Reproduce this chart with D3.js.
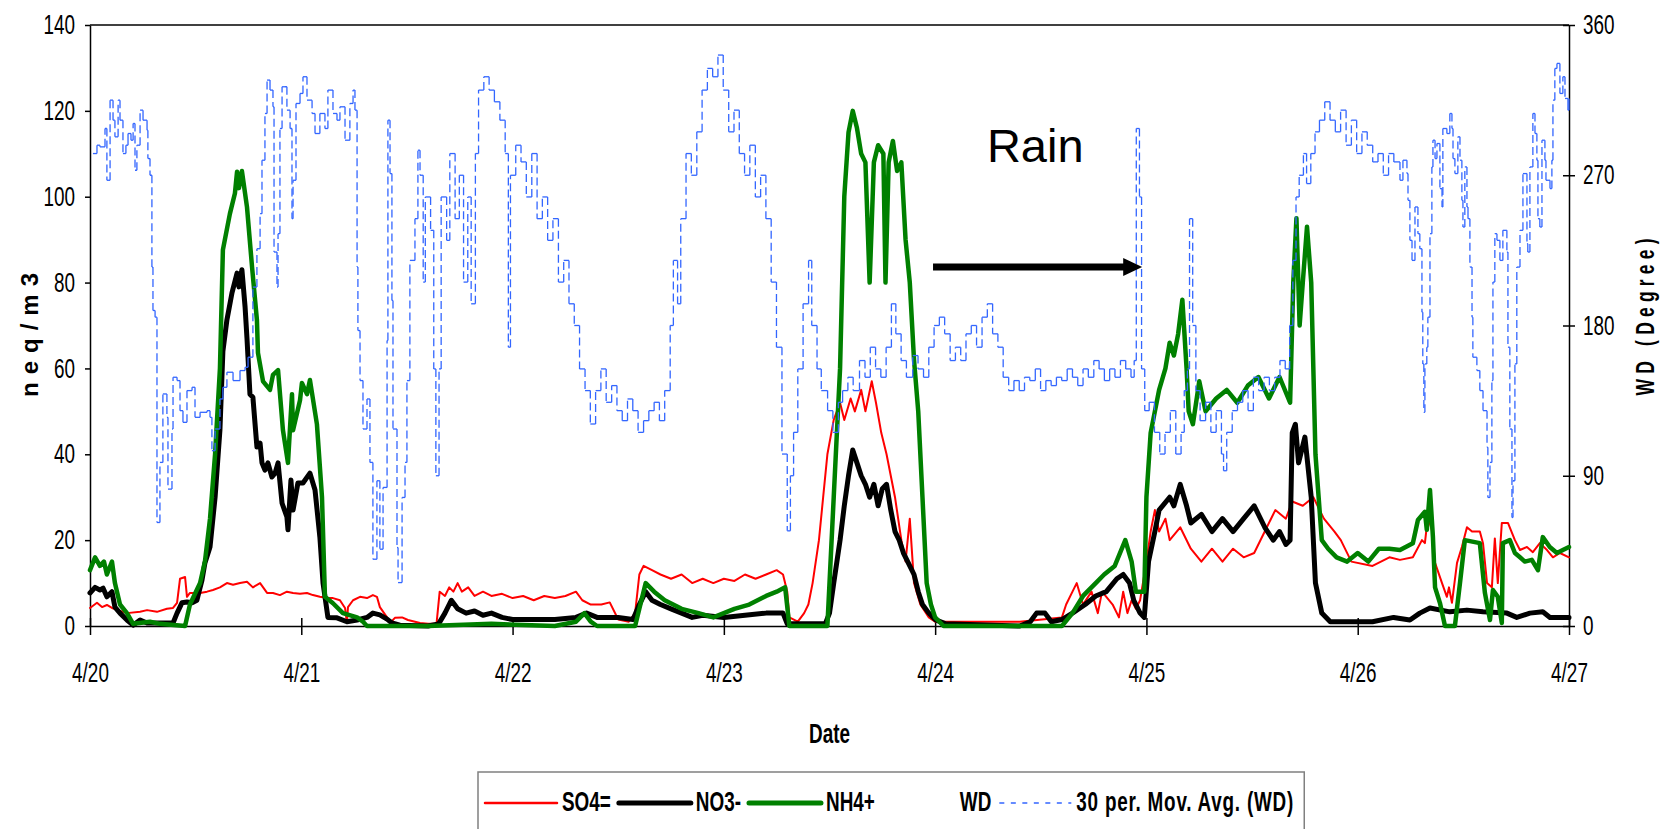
<!DOCTYPE html>
<html>
<head>
<meta charset="utf-8">
<script src="https://cdnjs.cloudflare.com/ajax/libs/d3/7.8.5/d3.min.js"></script>
<style>
body { margin: 0; background: #fff; }
text { font-family: "Liberation Sans", Arial, sans-serif; }
</style>
</head>
<body>
<div id="chart"></div>
<script>
// tick labels
var dayLabels = ["4/20", "4/21", "4/22", "4/23", "4/24", "4/25", "4/26", "4/27"];
var leftTicks = [0, 20, 40, 60, 80, 100, 120, 140];
var rightTicks = [0, 90, 180, 270, 360];
var legendNames = ["SO4=", "NO3-", "NH4+", "WD", "30 per. Mov. Avg. (WD)"];

// [days after 4/20 0:00, neq/m3]
var so4 = [[0,4.2],[0.033,5.4],[0.057,4.4],[0.080,4.9],[0.104,4.2],[0.133,3.7],[0.175,3],[0.237,3.3],[0.270,3.7],[0.317,3.3],[0.364,4],[0.393,4.2],[0.412,5.4],[0.426,11],[0.450,11.4],[0.459,6.8],[0.473,7.7],[0.521,7.7],[0.554,8],[0.582,8.4],[0.615,9],[0.648,10],[0.677,9.6],[0.710,10],[0.743,10.3],[0.771,9],[0.805,10],[0.838,7.7],[0.866,7.7],[0.899,7.2],[0.932,8],[0.961,7.7],[0.994,7.5],[1.027,7.7],[1.055,7.2],[1.088,6.8],[1.122,6.5],[1.150,6.5],[1.183,6],[1.207,4.2],[1.216,0.7],[1.221,4.4],[1.245,6],[1.278,6.8],[1.311,6.5],[1.339,7.2],[1.358,6.8],[1.372,4.4],[1.406,2],[1.420,0.7],[1.443,1.9],[1.477,2],[1.505,1.4],[1.562,0.7],[1.60,0.5],[1.64,0.5],[1.655,8],[1.68,7],[1.70,9],[1.72,8],[1.74,10],[1.76,8],[1.79,9],[1.82,7],[1.86,8],[1.9,7],[1.95,7.5],[2.0,6.5],[2.05,7],[2.1,6],[2.15,7],[2.2,6.5],[2.25,7],[2.3,8],[2.33,6],[2.37,5],[2.42,5],[2.46,5.5],[2.5,1.5],[2.55,1],[2.58,3],[2.6,12],[2.62,14],[2.66,13],[2.7,12],[2.75,11],[2.8,12],[2.85,10],[2.9,11],[2.95,10],[3.0,11],[3.05,10.5],[3.1,12],[3.15,11],[3.2,12],[3.25,13],[3.28,12],[3.3,8],[3.31,2],[3.35,1],[3.38,3],[3.4,5],[3.42,10],[3.45,20],[3.47,30],[3.49,40],[3.52,48],[3.55,52],[3.57,48],[3.6,53],[3.62,50],[3.65,55],[3.67,50],[3.7,57],[3.72,52],[3.745,45],[3.77,40],[3.79,35],[3.81,30],[3.84,20],[3.86,15],[3.88,25],[3.90,10],[3.93,5],[3.97,2],[4.0,1],[4.4,1],[4.6,2],[4.62,5],[4.65,8],[4.67,10],[4.7,5],[4.74,8],[4.77,3],[4.79,8],[4.84,5],[4.87,2],[4.89,8],[4.91,3],[4.93,6],[4.95,4],[4.97,6],[5.0,15],[5.02,22],[5.04,27],[5.06,22],[5.09,25],[5.11,20],[5.16,23],[5.21,18],[5.26,15],[5.31,18],[5.36,15],[5.41,18],[5.46,16],[5.51,17],[5.56,22],[5.61,27],[5.66,25],[5.69,29],[5.74,28],[5.79,30],[5.82,27],[5.84,25],[5.89,22],[5.92,20],[5.97,15],[6.07,14],[6.15,16],[6.2,15.4],[6.261,16],[6.304,20],[6.318,19.3],[6.332,25.4],[6.351,22.4],[6.366,14.7],[6.399,10],[6.422,6.8],[6.432,9],[6.446,5.4],[6.470,14.7],[6.493,18.4],[6.517,23],[6.541,22],[6.578,22],[6.593,19.3],[6.612,10],[6.635,9],[6.649,20.4],[6.663,10],[6.682,24],[6.711,24],[6.744,20],[6.768,17.7],[6.801,18.4],[6.829,17.2],[6.862,19.3],[6.896,17.7],[6.924,16],[6.957,17],[7.0,16]];

var no3 = [[0,7.7],[0.024,9],[0.047,8.4],[0.062,8.8],[0.080,6.8],[0.104,8],[0.118,4.4],[0.142,3],[0.175,1.4],[0.204,0.2],[0.237,1.4],[0.270,0.7],[0.298,0.7],[0.393,0.7],[0.412,3],[0.435,5.4],[0.459,5.6],[0.483,5.4],[0.506,6],[0.530,10.7],[0.544,14.7],[0.568,18.4],[0.592,30],[0.615,45.7],[0.629,64],[0.648,71.3],[0.672,77.6],[0.696,82.2],[0.705,79],[0.719,83],[0.734,74.3],[0.743,67],[0.757,54],[0.771,53.3],[0.790,41.7],[0.805,42.6],[0.814,38],[0.828,36.3],[0.842,38],[0.861,34.7],[0.876,35.6],[0.890,38],[0.909,28.6],[0.932,25.4],[0.937,22.4],[0.951,34],[0.961,27],[0.984,33.3],[1.008,33.3],[1.041,35.6],[1.065,31.7],[1.088,20.7],[1.103,10],[1.126,2],[1.169,1.9],[1.216,1],[1.264,1.4],[1.311,2],[1.339,3],[1.372,2.6],[1.406,1.6],[1.429,0.7],[1.467,0.2],[1.6,0],[1.65,0.5],[1.68,3],[1.71,6],[1.74,4],[1.78,3],[1.82,3.5],[1.86,2.5],[1.9,3],[1.95,2],[2.0,1.5],[2.1,1.5],[2.2,1.5],[2.3,2],[2.35,3],[2.4,2],[2.5,2],[2.57,1.5],[2.6,5],[2.63,8],[2.66,6],[2.7,5],[2.75,4],[2.8,3],[2.85,2],[2.9,2.5],[3.0,2],[3.1,2.5],[3.2,3],[3.28,3],[3.3,0.5],[3.48,0.5],[3.5,3],[3.52,10],[3.55,20],[3.57,28],[3.59,35],[3.61,41],[3.63,38],[3.65,35],[3.67,33],[3.69,30],[3.71,33],[3.73,28],[3.75,32],[3.77,33],[3.79,27],[3.81,22],[3.83,20],[3.85,17],[3.87,15],[3.9,12],[3.92,8],[3.94,5],[3.97,3],[4.0,1.5],[4.05,0.5],[4.4,0],[4.45,1],[4.48,3],[4.52,3],[4.55,1],[4.6,1.5],[4.65,3],[4.71,5],[4.76,7],[4.81,8],[4.86,11],[4.89,12],[4.92,10],[4.94,6],[4.97,3],[4.99,2],[5.01,15],[5.04,22],[5.06,27],[5.11,30],[5.13,28],[5.16,33],[5.19,28],[5.21,24],[5.26,26],[5.31,22],[5.36,25],[5.41,22],[5.46,25],[5.51,28],[5.56,23],[5.6,20],[5.63,22],[5.66,19],[5.68,20],[5.69,45],[5.705,47],[5.72,38],[5.75,44],[5.78,30],[5.8,10],[5.83,3],[5.87,1],[6.07,1],[6.17,2],[6.247,1.4],[6.294,3],[6.342,4.2],[6.436,3.3],[6.517,3.7],[6.593,3.3],[6.706,3],[6.753,2],[6.815,3],[6.876,3.3],[6.910,2],[7.0,2]];

var nh4 = [[0,13],[0.024,16],[0.047,14],[0.066,15],[0.080,12],[0.104,15],[0.118,10],[0.142,5],[0.175,3],[0.204,0.5],[0.284,1],[0.331,0.5],[0.450,0],[0.473,5],[0.521,10],[0.544,15],[0.568,25],[0.592,40],[0.615,60],[0.629,87.6],[0.662,96],[0.686,100.8],[0.696,105.8],[0.705,102],[0.719,106],[0.743,97.6],[0.767,83.6],[0.790,71.3],[0.795,63.6],[0.819,57],[0.852,55],[0.866,58.5],[0.890,59.6],[0.913,45.7],[0.937,38],[0.956,54],[0.961,45.6],[0.994,52.6],[1.003,56.6],[1.027,54],[1.041,57.3],[1.074,47],[1.098,30],[1.112,6.8],[1.150,5.3],[1.197,3],[1.264,2],[1.292,1],[1.311,0],[1.6,0],[1.9,0.5],[2.2,0],[2.3,1],[2.34,3],[2.37,1],[2.4,0],[2.58,0],[2.6,4],[2.63,10],[2.67,8],[2.72,6],[2.8,4],[2.88,3],[2.95,2],[3.0,3],[3.05,4],[3.12,5],[3.2,7],[3.25,8],[3.29,9],[3.31,0],[3.49,0],[3.52,30],[3.55,60],[3.57,100],[3.59,115],[3.61,120],[3.63,116],[3.65,110],[3.67,108],[3.69,80],[3.71,108],[3.73,112],[3.755,110],[3.765,80],[3.78,108],[3.80,113],[3.82,106],[3.84,108],[3.86,90],[3.88,80],[3.90,62],[3.92,50],[3.94,30],[3.96,10],[3.98,5],[4.0,2],[4.04,0],[4.6,0],[4.65,3],[4.7,7],[4.76,10],[4.8,12],[4.85,14],[4.9,20],[4.93,15],[4.95,8],[4.99,8],[5.0,30],[5.02,45],[5.06,55],[5.09,60],[5.11,66],[5.13,63],[5.15,68],[5.17,76],[5.19,60],[5.2,50],[5.22,47],[5.25,57],[5.28,50],[5.33,53],[5.38,55],[5.43,52],[5.48,56],[5.53,58],[5.58,53],[5.63,58],[5.68,52],[5.695,80],[5.71,95],[5.725,70],[5.74,80],[5.76,93],[5.78,80],[5.8,40],[5.83,20],[5.86,18],[5.9,16],[5.95,15],[6.0,17],[6.05,15],[6.1,18],[6.15,18],[6.2,17.7],[6.261,19.3],[6.285,24.7],[6.318,26.6],[6.327,22.4],[6.342,31.7],[6.356,20.7],[6.366,9],[6.389,5.4],[6.413,0],[6.460,0],[6.484,10],[6.507,20],[6.578,19.3],[6.602,7.7],[6.626,1.4],[6.640,8.4],[6.663,6.8],[6.682,0.7],[6.687,19.3],[6.720,20],[6.744,17],[6.768,16],[6.791,15],[6.824,15.4],[6.853,13],[6.876,20.7],[6.909,18.4],[6.943,17],[6.971,17.7],[7.0,18.4]];

// [days, degrees] 30 per. moving average of WD
var wdAvg = [[0.014,283],[0.033,288],[0.047,287],[0.071,298],[0.080,267],[0.095,315],[0.109,303],[0.118,293],[0.133,315],[0.142,303],[0.156,283],[0.170,288],[0.180,295],[0.194,291],[0.204,301],[0.213,273],[0.222,288],[0.237,309],[0.251,303],[0.270,297],[0.274,280],[0.284,270],[0.293,215],[0.298,189],[0.308,185],[0.317,62],[0.331,98],[0.345,139],[0.364,125],[0.369,82],[0.388,118],[0.393,149],[0.412,147],[0.426,129],[0.440,122],[0.459,141],[0.483,143],[0.497,125],[0.521,128],[0.554,129],[0.568,125],[0.577,105],[0.592,118],[0.615,136],[0.629,143],[0.648,152],[0.677,147],[0.710,153],[0.734,155],[0.748,161],[0.771,203],[0.790,226],[0.805,247],[0.814,279],[0.828,307],[0.838,327],[0.852,321],[0.866,311],[0.871,224],[0.885,203],[0.890,235],[0.899,298],[0.909,323],[0.923,323],[0.932,309],[0.947,298],[0.956,244],[0.961,267],[0.975,313],[0.994,319],[1.008,329],[1.027,315],[1.051,307],[1.065,295],[1.088,307],[1.112,298],[1.126,321],[1.150,307],[1.169,303],[1.183,311],[1.207,291],[1.230,313],[1.245,321],[1.254,309],[1.264,215],[1.268,177],[1.278,147],[1.292,118],[1.311,136],[1.325,98],[1.339,40],[1.358,87],[1.372,46],[1.387,83],[1.406,171],[1.410,303],[1.420,271],[1.429,195],[1.434,118],[1.453,47],[1.458,26],[1.477,77],[1.491,98],[1.500,147],[1.514,219],[1.538,244],[1.552,285],[1.562,270],[1.577,206],[1.587,257],[1.612,237],[1.627,154],[1.637,90],[1.652,154],[1.662,257],[1.688,231],[1.703,283],[1.728,244],[1.748,270],[1.768,206],[1.788,257],[1.804,193],[1.824,283],[1.839,321],[1.864,329],[1.889,321],[1.914,314],[1.940,303],[1.965,283],[1.980,167],[1.990,270],[2.015,288],[2.040,278],[2.065,257],[2.091,283],[2.116,244],[2.141,257],[2.166,231],[2.191,244],[2.217,206],[2.242,219],[2.267,193],[2.292,180],[2.317,154],[2.343,141],[2.368,121],[2.393,141],[2.418,154],[2.443,134],[2.469,144],[2.494,129],[2.519,123],[2.544,136],[2.569,129],[2.594,116],[2.620,123],[2.645,129],[2.670,134],[2.695,123],[2.720,141],[2.746,180],[2.761,219],[2.781,193],[2.796,244],[2.821,283],[2.846,270],[2.872,296],[2.897,321],[2.922,334],[2.947,329],[2.972,342],[2.997,321],[3.023,296],[3.048,309],[3.073,283],[3.098,270],[3.123,288],[3.149,257],[3.174,270],[3.199,244],[3.224,206],[3.249,167],[3.275,103],[3.300,57],[3.315,90],[3.330,116],[3.350,154],[3.375,193],[3.401,219],[3.416,180],[3.441,154],[3.461,141],[3.491,129],[3.516,116],[3.542,134],[3.562,141],[3.587,149],[3.612,141],[3.642,159],[3.668,149],[3.693,167],[3.718,154],[3.743,149],[3.768,167],[3.793,193],[3.814,175],[3.839,159],[3.864,149],[3.894,162],[3.919,154],[3.945,149],[3.970,167],[3.995,180],[4.020,185],[4.045,175],[4.071,159],[4.096,167],[4.121,159],[4.146,175],[4.171,180],[4.196,167],[4.222,185],[4.247,193],[4.272,175],[4.297,167],[4.322,149],[4.348,141],[4.373,147],[4.398,141],[4.423,149],[4.448,147],[4.474,154],[4.499,141],[4.524,147],[4.549,144],[4.574,149],[4.599,147],[4.625,154],[4.650,149],[4.675,144],[4.700,154],[4.725,149],[4.751,159],[4.776,154],[4.801,147],[4.826,154],[4.851,149],[4.877,159],[4.902,154],[4.927,149],[4.942,159],[4.952,298],[4.967,257],[4.977,154],[4.992,129],[5.013,134],[5.038,116],[5.063,103],[5.088,116],[5.113,129],[5.139,103],[5.164,116],[5.179,141],[5.194,154],[5.204,244],[5.219,180],[5.234,141],[5.254,123],[5.280,134],[5.305,116],[5.330,129],[5.355,103],[5.365,93],[5.380,116],[5.406,129],[5.431,134],[5.456,141],[5.481,129],[5.506,149],[5.531,141],[5.557,149],[5.582,141],[5.607,149],[5.632,159],[5.657,154],[5.678,180],[5.693,219],[5.708,257],[5.723,270],[5.743,283],[5.758,265],[5.778,283],[5.798,296],[5.819,303],[5.844,314],[5.869,303],[5.894,296],[5.919,309],[5.945,288],[5.970,303],[5.995,283],[6.020,296],[6.045,288],[6.071,278],[6.096,283],[6.121,270],[6.146,283],[6.171,278],[6.200,267],[6.214,279],[6.233,271],[6.238,255],[6.247,231],[6.257,219],[6.271,251],[6.285,235],[6.294,226],[6.304,188],[6.308,157],[6.313,128],[6.318,157],[6.327,167],[6.332,185],[6.342,235],[6.351,275],[6.356,291],[6.366,280],[6.375,289],[6.389,262],[6.399,251],[6.403,298],[6.422,295],[6.436,307],[6.446,298],[6.451,280],[6.460,271],[6.474,293],[6.484,279],[6.493,255],[6.498,239],[6.507,275],[6.517,251],[6.522,244],[6.531,215],[6.541,185],[6.545,161],[6.564,153],[6.578,141],[6.593,129],[6.612,107],[6.616,77],[6.626,98],[6.635,147],[6.640,206],[6.649,235],[6.659,231],[6.673,219],[6.687,237],[6.706,224],[6.711,167],[6.720,118],[6.730,65],[6.735,87],[6.744,157],[6.753,215],[6.768,237],[6.782,271],[6.801,229],[6.805,224],[6.815,275],[6.829,307],[6.839,295],[6.848,279],[6.853,244],[6.862,239],[6.872,291],[6.886,279],[6.891,267],[6.910,262],[6.919,279],[6.924,315],[6.933,334],[6.943,337],[6.957,319],[6.971,329],[6.981,316],[6.995,309],[7.0,316]];

// rain annotation, in data units
var rainText = [4.245, 108];
var rainArrow = [3.99, 4.98, 83.6];

var W = 1669, H = 829;
var NARROW = 0.7;   // the original font is a condensed Arial
var FONT = "Liberation Sans, Arial, sans-serif";

var svg = d3.select("#chart").append("svg")
  .attr("width", W)
  .attr("height", H);

var x = d3.scaleLinear().domain([0, 7]).range([90, 1569]);
var yL = d3.scaleLinear().domain([0, 140]).range([626, 25]);
var yR = d3.scaleLinear().domain([0, 360]).range([626, 25]);

//top border of plot area
svg.append("line")
  .attr("x1", x(0)).attr("x2", x(7))
  .attr("y1", yL(140)).attr("y2", yL(140))
  .attr("stroke", "#000").attr("stroke-width", 1.5);

// x axis
var gx = svg.append("g").attr("transform", "translate(0," + yL(0) + ")")
  .call(d3.axisBottom(x).tickValues(d3.range(dayLabels.length))
    .tickFormat(function(d, i){ return dayLabels[i]; })
    .tickSizeOuter(0));
gx.selectAll(".tick line").attr("y1", -8).attr("y2", 9);
gx.selectAll(".tick text")
  .attr("y", 56).attr("dy", null)
  .attr("transform", "scale(" + NARROW + ",1)");

// left axis
var gl = svg.append("g").attr("transform", "translate(" + x(0) + ",0)")
  .call(d3.axisLeft(yL).tickValues(leftTicks).tickSize(5).tickSizeOuter(0));
gl.selectAll(".tick text")
  .attr("x", -15 / NARROW)
  .attr("transform", "scale(" + NARROW + ",1)");

// right axis
var gr = svg.append("g").attr("transform", "translate(" + x(7) + ",0)")
  .call(d3.axisRight(yR).tickValues(rightTicks).tickSizeOuter(0));
gr.selectAll(".tick line").attr("x1", -6).attr("x2", 6);
gr.selectAll(".tick text")
  .attr("x", 14 / NARROW)
  .attr("transform", "scale(" + NARROW + ",1)");

[gx, gl, gr].forEach(function(g){
  g.attr("font-size", 27).attr("font-family", FONT);
  g.selectAll(".domain, .tick line").attr("stroke", "#000").attr("stroke-width", 1.5);
});

// axis titles
svg.append("text")
  .attr("transform", "translate(30,335) rotate(-90)")
  .attr("text-anchor", "middle")
  .attr("dy", "0.35em")
  .attr("font-size", 24).attr("font-weight", "bold")
  .attr("textLength", 124).attr("lengthAdjust", "spacing")
  .text("neq/m3");

svg.append("text")
  .attr("transform", "translate(1645,317) rotate(-90) scale(" + NARROW + ",1)")
  .attr("text-anchor", "middle")
  .attr("dy", "0.35em")
  .attr("font-size", 25).attr("font-weight", "bold")
  .attr("textLength", 157 / NARROW).attr("lengthAdjust", "spacing")
  .text("WD (Degree)");

svg.append("text")
  .attr("transform", "translate(" + (x(3.5)) + ",743) scale(" + NARROW + ",1)")
  .attr("text-anchor", "middle")
  .attr("font-size", 27).attr("font-weight", "bold")
  .text("Date");

// series
var line = d3.line()
  .x(function(d){ return x(d[0]); })
  .y(function(d){ return yL(d[1]); });

var series = [
  {data: so4, color: "#ff0000", width: 2},
  {data: no3, color: "#000000", width: 5},
  {data: nh4, color: "#008000", width: 4.5}
];
series.forEach(function(s){
  svg.append("path")
    .attr("d", line(s.data))
    .attr("fill", "none")
    .attr("stroke", s.color)
    .attr("stroke-width", s.width)
    .attr("stroke-linejoin", "round")
    .attr("stroke-linecap", "round");
});

// moving average of WD, drawn as steps; short pieces come out solid,
// the long jumps come out dashed
var blue = svg.append("g")
  .attr("stroke", "#3366ff")
  .attr("stroke-width", 1.3);
for (var i = 0; i < wdAvg.length - 1; i++) {
  var xa = x(wdAvg[i][0]), xb = x(wdAvg[i+1][0]);
  var ya = yR(wdAvg[i][1]), yb = yR(wdAvg[i+1][1]);
  blue.append("line").attr("x1", xa).attr("y1", ya).attr("x2", xb).attr("y2", ya);
  blue.append("line").attr("x1", xb).attr("y1", ya).attr("x2", xb).attr("y2", yb)
    .attr("stroke-dasharray", Math.abs(yb - ya) > 12 ? "8,4" : null);
}

// Rain note
svg.append("text")
  .attr("x", x(rainText[0])).attr("y", yL(rainText[1]))
  .attr("font-size", 47)
  .text("Rain");
svg.append("line")
  .attr("x1", x(rainArrow[0])).attr("x2", x(rainArrow[1]) - 16)
  .attr("y1", yL(rainArrow[2])).attr("y2", yL(rainArrow[2]))
  .attr("stroke", "#000").attr("stroke-width", 7);
var tipX = x(rainArrow[1]), tipY = yL(rainArrow[2]);
svg.append("path")
  .attr("d", "M" + tipX + "," + tipY + "L" + (tipX - 19) + "," + (tipY - 9) + "L" + (tipX - 19) + "," + (tipY + 9) + "Z")
  .attr("fill", "#000");

// legend
var legendStyles = [
  {color: "#ff0000", width: 2.5, dash: null},
  {color: "#000000", width: 5, dash: null},
  {color: "#008000", width: 5, dash: null},
  {color: "none", width: 0, dash: null},
  {color: "#3366ff", width: 1.5, dash: "5,6.5"}
];
var leg = svg.append("g");
var lx = 485, ly = 803;
legendNames.forEach(function(name, i){
  var st = legendStyles[i];
  if (st.color != "none") {
    leg.append("line")
      .attr("x1", lx).attr("x2", lx + 72)
      .attr("y1", ly).attr("y2", ly)
      .attr("stroke", st.color).attr("stroke-width", st.width)
      .attr("stroke-linecap", st.dash ? "butt" : "round")
      .attr("stroke-dasharray", st.dash);
  }
  lx += 77;
  var t = leg.append("text")
    .attr("transform", "translate(" + lx + "," + (ly + 8) + ") scale(" + NARROW + ",1)")
    .attr("font-size", 27).attr("font-weight", "bold")
    .text(name);
  var w = t.node().getComputedTextLength();
  if (i == legendNames.length - 1) {
    // last label is a little wider in the original
    t.attr("textLength", w * 1.08).attr("lengthAdjust", "spacing");
    w = w * 1.08;
  }
  lx += w * NARROW + 8;
});
leg.insert("rect", ":first-child")
  .attr("x", 478).attr("y", 772)
  .attr("width", lx - 478 + 3).attr("height", 80)
  .attr("fill", "#fff")
  .attr("stroke", "#808080").attr("stroke-width", 1.5);
</script>
</body>
</html>
